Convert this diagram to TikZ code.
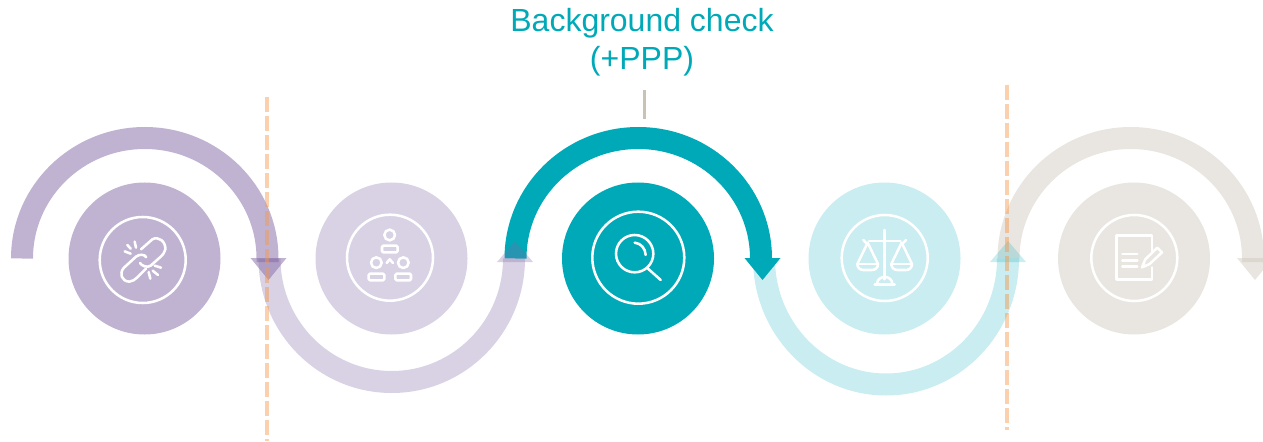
\documentclass[tikz,border=0pt]{standalone}
\usepackage{fontspec}
\setmainfont{Liberation Sans}
\definecolor{purp}{HTML}{8268A4}
\definecolor{teal1}{HTML}{00A9B7}
\definecolor{sand}{HTML}{C8C0B4}
\definecolor{orng}{HTML}{F79646}
\definecolor{tick}{HTML}{C9C2B7}
\tikzset{
  disc/.style={circle,inner sep=0pt,minimum size=114pt,draw=none,fill=#1},
  band/.style={line width=16.5pt,draw=#1},
  ring/.style={circle,inner sep=0pt,draw=white,line width=1.9pt,fill=none},
  ico/.style={draw=white,line width=1.9pt,line cap=round,line join=round},
  cut/.style={draw=orng,opacity=.45,line width=3.7pt,dash pattern=on 11pt off 3.25pt},
}
\begin{document}
\begin{tikzpicture}[x=0.75pt,y=-0.75pt]
\useasboundingbox (0,0) rectangle (1263,442);
% discs
\node[disc={purp!50!white}] (d1) at (144.5,258.5) {};
\node[disc={purp!30!white}] (d2) at (391.5,258.5) {};
\node[disc=teal1] (d3) at (638,258.5) {};
\node[disc={teal1!21!white}] (d4) at (884.5,258.5) {};
\node[disc={sand!40!white}] (d5) at (1134,258.5) {};
% rings
\node[ring,minimum size=64.5pt] (r1) at (142.7,260) {};
\node[ring,minimum size=64.5pt] (r2) at (390,257.7) {};
\node[ring,minimum size=69pt] (r3) at (638.3,257.7) {};
\node[ring,minimum size=64.5pt] (r4) at (884.7,258) {};
\node[ring,minimum size=64.5pt] (r5) at (1134.3,258) {};
% arc end points
\coordinate (a1s) at (22,258.5);  \coordinate (a1e) at (267.5,262);
\coordinate (a2s) at (269.5,258.5); \coordinate (a2e) at (514,262);
\coordinate (a3s) at (515.5,258.5); \coordinate (a3e) at (761,262);
\coordinate (a4s) at (764,258.5); \coordinate (a4e) at (1008,262);
\coordinate (a5s) at (1008.5,258.5); \coordinate (a5e) at (1253,262);
% arcs
\draw[band=purp,opacity=.5] (a1s) arc[start angle=180,end angle=360,x radius=122.75,y radius=120.5] -- (a1e);
\draw[band=purp,opacity=.3] (a2s) arc[start angle=180,end angle=0,x radius=122.25,y radius=123.5] -- (a2e);
\draw[band=teal1] (a3s) arc[start angle=180,end angle=360,x radius=122.75,y radius=120.5] -- (a3e);
\draw[band=teal1,opacity=.21] (a4s) arc[start angle=180,end angle=0,x radius=122,y radius=126] -- (a4e);
\draw[band=sand,opacity=.4] (a5s) arc[start angle=180,end angle=360,x radius=122.25,y radius=120.5] -- (a5e);
% arrow heads
\fill[purp,opacity=.5] (250.5,258) -- (286.5,258) -- (268.5,280) -- cycle;
\fill[purp,opacity=.3] (497,262) -- (533,262) -- (515,241) -- cycle;
\fill[teal1] (744.5,258) -- (780.5,258) -- (762.5,280) -- cycle;
\fill[teal1,opacity=.21] (990,262) -- (1026,262) -- (1008,241) -- cycle;
\fill[sand,opacity=.4] (1237,258) -- (1273,258) -- (1255,280) -- cycle;
% dashed lines
\coordinate (c1t) at (267,97); \coordinate (c1b) at (267,441);
\coordinate (c2t) at (1007,85); \coordinate (c2b) at (1007,430);
\draw[cut] (c1t) -- (c1b);
\draw[cut] (c2t) -- (c2b);
% tick and label
\node[text=teal1,align=center,font=\fontsize{24}{28.7}\selectfont,inner sep=0pt,anchor=north] (lab) at (642,8) {Background check\\(+PPP)};
\coordinate (t1) at (644.5,90); \coordinate (t2) at (644.5,119);
\draw[tick,line width=2.6pt] (t1) -- (t2);
% icon 1: broken link
\begin{scope}[shift={(60,180)},x=0.25pt,y=-0.25pt]
\draw[ico] (243,208) -- (277,178) .. controls (295,167) and (318,185) .. (316,208) .. controls (315,218) and (308,224) .. (300,232) -- (272,257) .. controls (262,264) and (245,258) .. (240,249);
\draw[ico] (259,232) .. controls (254,222) and (238,222) .. (228,230) -- (192,263) .. controls (176,280) and (185,304) .. (208,305) .. controls (218,305) and (225,298) .. (232,292) -- (258,266);
\draw[ico] (202,195) -- (212,206) (224,185) -- (228,203) (194,214) -- (212,221);
\draw[ico] (303,263) -- (284,257) (294,285) -- (278,272) (271,296) -- (266,276);
\end{scope}
% icon 2: organisation
\begin{scope}[shift={(310,180)},x=0.25pt,y=-0.25pt]
\draw[ico] (239,165) circle[radius=16];
\draw[ico] (199,248) circle[radius=16];
\draw[ico] (280,248) circle[radius=16];
\draw[ico,rounded corners=1pt] (216,197) rectangle (263,217);
\draw[ico,rounded corners=1pt] (176,281) rectangle (223,301);
\draw[ico,rounded corners=1pt] (256,281) rectangle (303,301);
\draw[ico] (230,249) -- (239,238) -- (249,249);
\end{scope}
% icon 3: magnifier
\begin{scope}[shift={(560,180)},x=0.25pt,y=-0.25pt]
\draw[ico] (224,221) circle[radius=56];
\draw[ico] (224,188) .. controls (243,190) and (256,205) .. (257,225);
\draw[ico] (263,265) -- (302,300);
\end{scope}
% icon 4: scales
\begin{scope}[shift={(800,180)},x=0.25pt,y=-0.25pt]
\draw[ico] (254,150) -- (254,298);
\draw[ico] (207,183) -- (301,183);
\draw[ico] (190,180) -- (205,196) (318,180) -- (303,196);
\draw[ico] (203,188) -- (172,252) .. controls (172,263) and (180,270) .. (190,270) -- (216,270) .. controls (226,270) and (234,263) .. (234,252) -- cycle;
\draw[ico] (172,252) -- (234,252);
\draw[ico] (305,188) -- (274,252) .. controls (274,263) and (282,270) .. (292,270) -- (318,270) .. controls (328,270) and (336,263) .. (336,252) -- cycle;
\draw[ico] (274,252) -- (336,252);
\draw[ico] (224,313) -- (284,313);
\draw[ico] (231,313) .. controls (231,300) and (240,291) .. (254,291) .. controls (268,291) and (277,300) .. (277,313);
\end{scope}
% icon 5: document and pen
\begin{scope}[shift={(1023,180)},x=0.25pt,y=-0.25pt]
\draw[ico] (387,218) -- (387,167) -- (281,167) -- (281,298) -- (387,298) -- (387,262);
\draw[ico] (298,222) -- (343,222) (298,241) -- (343,241) (298,260) -- (343,260);
\draw[ico] (403,203) -- (417,217) -- (380,252) -- (357,262) -- (367,238) -- cycle;
\end{scope}
\end{tikzpicture}
\end{document}
